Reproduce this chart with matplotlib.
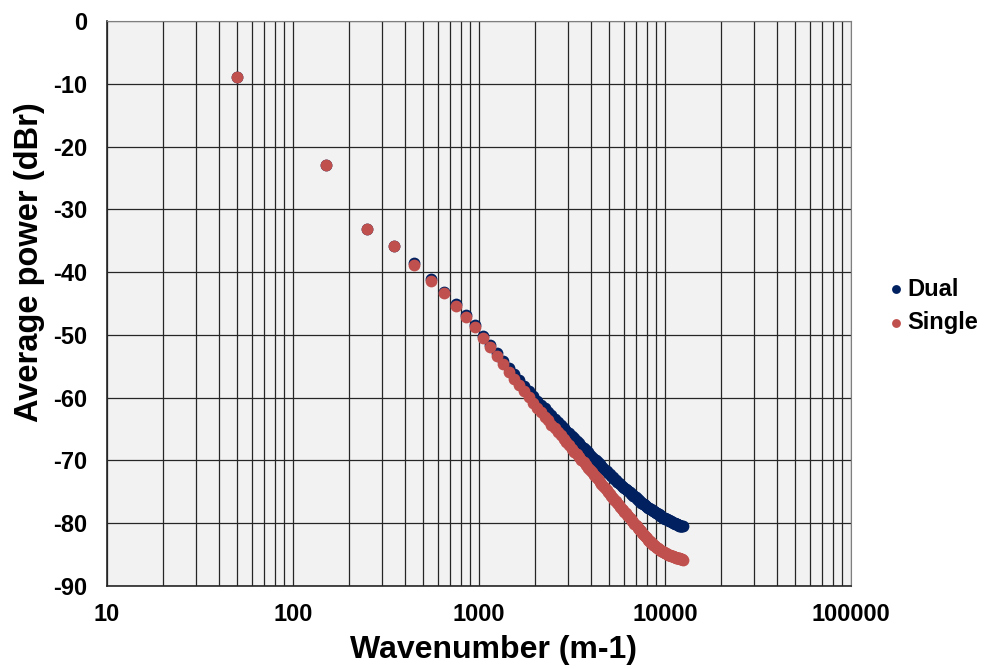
import matplotlib
matplotlib.use('Agg')
import matplotlib.pyplot as plt
from matplotlib.ticker import FixedLocator, LogLocator, NullFormatter

plt.rcParams['font.family'] = ['Liberation Sans', 'DejaVu Sans']

# wavenumber bin centres (m-1)
wavenumber = [
    50, 150, 250, 350, 450, 550, 650, 750, 850, 950,
    1050, 1150, 1250, 1350, 1450, 1550, 1650, 1750, 1850, 1950,
    2050, 2150, 2250, 2350, 2450, 2550, 2650, 2750, 2850, 2950,
    3050, 3150, 3250, 3350, 3450, 3550, 3650, 3750, 3850, 3950,
    4050, 4150, 4250, 4350, 4450, 4550, 4650, 4750, 4850, 4950,
    5050, 5150, 5250, 5350, 5450, 5550, 5650, 5750, 5850, 5950,
    6050, 6150, 6250, 6350, 6450, 6550, 6650, 6750, 6850, 6950,
    7050, 7150, 7250, 7350, 7450, 7550, 7650, 7750, 7850, 7950,
    8050, 8150, 8250, 8350, 8450, 8550, 8650, 8750, 8850, 8950,
    9050, 9150, 9250, 9350, 9450, 9550, 9650, 9750, 9850, 9950,
    10050, 10150, 10250, 10350, 10450, 10550, 10650, 10750, 10850, 10950,
    11050, 11150, 11250, 11350, 11450, 11550, 11650, 11750, 11850, 11950,
    12050, 12150, 12250, 12350, 12450,
]

dual = [
    -8.9, -23.0, -33.1, -35.8, -38.6, -41.1, -43.1, -45.1, -46.9, -48.5,
    -50.2, -51.6, -52.9, -54.1, -55.2, -56.2, -57.2, -58.1, -59.0, -59.8,
    -60.5, -61.1, -61.7, -62.3, -62.8, -63.4, -63.9, -64.3, -64.8, -65.3,
    -65.7, -66.1, -66.5, -66.9, -67.3, -67.7, -68.0, -68.4, -68.7, -69.1,
    -69.4, -69.7, -70.0, -70.3, -70.6, -70.9, -71.2, -71.5, -71.7, -72.0,
    -72.2, -72.5, -72.7, -72.9, -73.1, -73.4, -73.6, -73.8, -74.0, -74.2,
    -74.4, -74.6, -74.7, -74.9, -75.1, -75.3, -75.4, -75.6, -75.7, -75.9,
    -76.1, -76.2, -76.4, -76.5, -76.7, -76.8, -76.9, -77.0, -77.1, -77.2,
    -77.4, -77.5, -77.6, -77.7, -77.8, -77.9, -78.0, -78.1, -78.2, -78.3,
    -78.4, -78.5, -78.6, -78.7, -78.8, -78.9, -79.0, -79.1, -79.1, -79.2,
    -79.3, -79.3, -79.4, -79.5, -79.5, -79.6, -79.6, -79.7, -79.8, -79.8,
    -79.9, -80.0, -80.0, -80.1, -80.1, -80.2, -80.2, -80.3, -80.3, -80.4,
    -80.4, -80.4, -80.5, -80.5, -80.5,
]

single = [
    -8.9, -23.0, -33.1, -35.9, -38.8, -41.4, -43.3, -45.4, -47.1, -48.8,
    -50.5, -52.0, -53.4, -54.7, -55.9, -57.0, -58.0, -59.0, -59.9, -60.8,
    -61.6, -62.3, -63.0, -63.6, -64.3, -64.9, -65.5, -66.0, -66.6, -67.1,
    -67.6, -68.1, -68.6, -69.0, -69.5, -69.9, -70.3, -70.8, -71.2, -71.5,
    -71.9, -72.3, -72.7, -73.0, -73.4, -73.7, -74.0, -74.4, -74.7, -75.0,
    -75.4, -75.7, -76.0, -76.3, -76.5, -76.8, -77.1, -77.4, -77.7, -77.9,
    -78.2, -78.4, -78.7, -78.9, -79.1, -79.4, -79.6, -79.8, -80.1, -80.3,
    -80.5, -80.7, -80.9, -81.1, -81.3, -81.5, -81.7, -81.9, -82.1, -82.2,
    -82.4, -82.6, -82.8, -82.9, -83.1, -83.2, -83.4, -83.5, -83.7, -83.8,
    -83.9, -84.0, -84.1, -84.2, -84.3, -84.4, -84.5, -84.6, -84.6, -84.7,
    -84.8, -84.8, -84.9, -85.0, -85.0, -85.1, -85.1, -85.2, -85.2, -85.3,
    -85.3, -85.4, -85.4, -85.4, -85.5, -85.5, -85.5, -85.6, -85.6, -85.6,
    -85.7, -85.7, -85.7, -85.7, -85.8,
]

x_ticks = [10, 100, 1000, 10000, 100000]
y_ticks = [-90, -80, -70, -60, -50, -40, -30, -20, -10, 0]

fig = plt.figure(figsize=(9.89, 6.69), dpi=100)
ax = fig.add_axes([107 / 989, 1 - 586 / 669, 744 / 989, 565 / 669])
ax.set_facecolor('#F2F2F2')

ax.scatter(wavenumber, dual, s=72, color='#002060', label='Dual', zorder=3, linewidths=0)
ax.scatter(wavenumber, single, s=72, color='#C0504D', label='Single', zorder=4, linewidths=0)

ax.set_xscale('log')
ax.set_xlim(10, 100000)
ax.set_ylim(-90, 0)
ax.xaxis.set_major_locator(FixedLocator(x_ticks))
ax.set_xticklabels([str(t) for t in x_ticks])
ax.xaxis.set_minor_locator(LogLocator(base=10, subs=range(2, 10)))
ax.xaxis.set_minor_formatter(NullFormatter())
ax.set_yticks(y_ticks)
ax.set_yticklabels([str(t) for t in y_ticks])

ax.grid(True, which='major', color='#262626', linewidth=0.9, zorder=0)
ax.grid(True, which='minor', axis='x', color='#262626', linewidth=0.9, zorder=0)
ax.set_axisbelow(True)

for side in ['top', 'right']:
    ax.spines[side].set_color('#7f7f7f')
for side in ['left', 'bottom']:
    ax.spines[side].set_color('#262626')
    ax.spines[side].set_linewidth(1.2)

ax.tick_params(which='both', length=0)
ax.tick_params(axis='y', pad=14, labelsize=17)
ax.tick_params(axis='x', pad=12, labelsize=17)
for lab in ax.get_xticklabels() + ax.get_yticklabels():
    lab.set_fontweight('bold')

ax.set_xlabel('Wavenumber (m-1)', fontsize=23, fontweight='bold', va='center')
ax.set_ylabel('Average power (dBr)', fontsize=23.5, fontweight='bold', va='center')
ax.xaxis.set_label_coords(0.519, -0.113)
ax.yaxis.set_label_coords(-0.1035, 0.573)

fig.legend(loc='center left', bbox_to_anchor=(872 / 989, 1 - 306 / 669), frameon=False,
           prop={'size': 17, 'weight': 'bold'}, handletextpad=0.0, markerscale=0.75,
           labelspacing=0.45, handlelength=1.0, borderpad=0)

fig.savefig('out.png', dpi=100)
